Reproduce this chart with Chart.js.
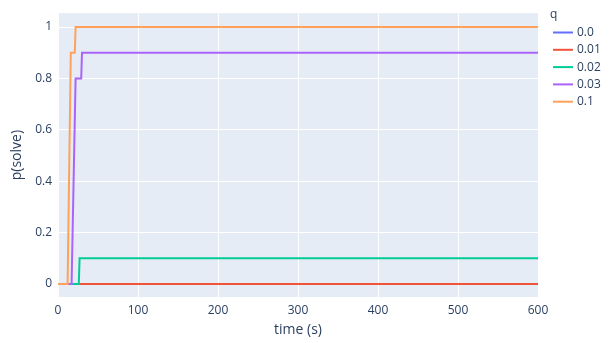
<!DOCTYPE html>
<html>
<head>
<meta charset="utf-8">
<script src="https://cdn.jsdelivr.net/npm/chart.js@4"></script>
<style>
  body { margin: 0; background: #fff; }
  #wrap { position: relative; width: 611px; height: 343px; }
</style>
</head>
<body>
<div id="wrap"><canvas id="chart" width="611" height="343"></canvas></div>
<script>
// series breakpoints (time in s, p(solve))
const qLabels = ["0.0", "0.01", "0.02", "0.03", "0.1"];
const colors = ["#636efa", "#EF553B", "#00cc96", "#ab63fa", "#FFA15A"];

const t00 = [0, 600];
const p00 = [0, 0];
const t001 = [0, 600];
const p001 = [0, 0];
const t002 = [0, 26, 27, 600];
const p002 = [0, 0, 0.1, 0.1];
const t003 = [0, 17, 22, 29, 30, 600];
const p003 = [0, 0, 0.8, 0.8, 0.9, 0.9];
const t01 = [0, 12, 16, 21, 22, 600];
const p01 = [0, 0, 0.9, 0.9, 1, 1];

const xTicks = [0, 100, 200, 300, 400, 500, 600];
const yTicks = [0, 0.2, 0.4, 0.6, 0.8, 1];

const times = [t00, t001, t002, t003, t01];
const probs = [p00, p001, p002, p003, p01];

const fontColor = "#2a3f5f";
const family = '"Open Sans", verdana, arial, sans-serif';

const toPoints = (ts, ps) => ts.map((t, i) => ({ x: t, y: ps[i] }));

const datasets = qLabels.map((q, i) => ({
  label: q,
  data: toPoints(times[i], probs[i]),
  borderColor: colors[i],
  backgroundColor: colors[i],
  borderWidth: 2,
  pointRadius: 0,
  tension: 0,
  fill: false,
  order: qLabels.length - i // later traces on top, like plotly
}));

// plot background
const bgPlugin = {
  id: "plotBg",
  beforeDraw(chart) {
    const { ctx, chartArea: a } = chart;
    ctx.save();
    ctx.fillStyle = "#E5ECF6";
    ctx.fillRect(a.left, a.top, a.right - a.left, a.bottom - a.top);
    ctx.restore();
  }
};

// legend on the right, plotly style
const legendPlugin = {
  id: "qLegend",
  afterDraw(chart) {
    const ctx = chart.ctx;
    ctx.save();
    ctx.font = "12px " + family;
    ctx.fillStyle = fontColor;
    ctx.textBaseline = "middle";
    ctx.fillText("q", 550, 15);
    qLabels.forEach((q, i) => {
      const y = 32.5 + i * 17.3;
      ctx.strokeStyle = colors[i];
      ctx.lineWidth = 2;
      ctx.beginPath();
      ctx.moveTo(553, y);
      ctx.lineTo(573, y);
      ctx.stroke();
      ctx.fillStyle = fontColor;
      ctx.fillText(q, 577, y);
    });
    ctx.restore();
  }
};

new Chart(document.getElementById("chart").getContext("2d"), {
  type: "line",
  data: { datasets },
  plugins: [bgPlugin, legendPlugin],
  options: {
    responsive: false,
    animation: false,
    layout: { padding: { top: 5, right: 73, bottom: 0, left: 0 } },
    plugins: { legend: { display: false }, tooltip: { enabled: false } },
    scales: {
      x: {
        type: "linear",
        min: 0,
        max: 600,
        afterBuildTicks: s => { s.ticks = xTicks.map(v => ({ value: v })); },
        afterFit: s => { s.height = 46; },
        grid: { color: "#ffffff", lineWidth: 1, drawTicks: false },
        border: { display: false },
        ticks: { color: fontColor, font: { family, size: 12 }, padding: 6 },
        title: {
          display: true,
          text: "time (s)",
          color: fontColor,
          font: { family, size: 14 },
          padding: { top: 0, bottom: 5 }
        }
      },
      y: {
        min: -0.051,
        max: 1.054,
        afterBuildTicks: s => { s.ticks = yTicks.map(v => ({ value: v })); },
        afterFit: s => { s.width = 58; },
        grid: { color: "#ffffff", lineWidth: 1, drawTicks: false },
        border: { display: false },
        ticks: {
          color: fontColor,
          font: { family, size: 12 },
          padding: 6,
          callback: v => String(v)
        },
        title: {
          display: true,
          text: "p(solve)",
          color: fontColor,
          font: { family, size: 14 },
          padding: { top: 9, bottom: 0 }
        }
      }
    }
  }
});
</script>
</body>
</html>
